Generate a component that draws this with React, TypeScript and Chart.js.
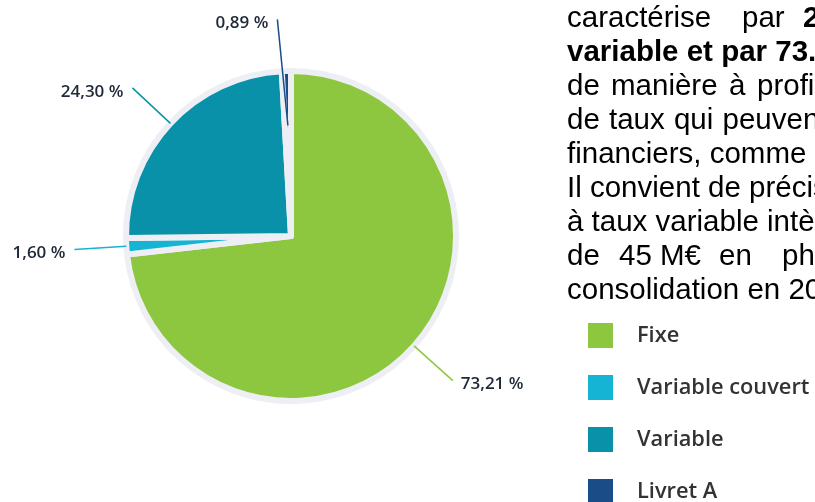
import React, { useEffect, useRef } from "react";
import { Chart, registerables } from "chart.js";

Chart.register(...registerables);

// ---- Data ----
const categories = ["Fixe", "Variable couvert", "Variable", "Livret A"];
const shares = [73.21, 1.6, 24.3, 0.89];
const sliceColors = ["#8dc63f", "#15b4d5", "#0891a9", "#1a4c88"];
const labelInnerFraction = [1, 1, 1, 0.67];
const labelAngleShiftDeg = [0, 0, 0, -2];

const formatPct = (v: number) => v.toFixed(2).replace(".", ",") + " %";

const pieLabelPlugin = {
  id: "pieLabels",
  afterDatasetsDraw(chart: any) {
    const meta = chart.getDatasetMeta(0);
    const ctx = chart.ctx;
    const values = chart.data.datasets[0].data as number[];
    const colors = chart.data.datasets[0].backgroundColor as string[];
    ctx.save();
    meta.data.forEach((arc: any, i: number) => {
      const { x, y, startAngle, endAngle, outerRadius } = arc.getProps(
        ["x", "y", "startAngle", "endAngle", "outerRadius"],
        true
      );
      const mid = (startAngle + endAngle) / 2;
      const outerMid = mid + (labelAngleShiftDeg[i] * Math.PI) / 180;
      const r1 = outerRadius * labelInnerFraction[i];
      const r2 = outerRadius + 52;
      const x1 = x + Math.cos(mid) * r1;
      const y1 = y + Math.sin(mid) * r1;
      const x2 = x + Math.cos(outerMid) * r2;
      const y2 = y + Math.sin(outerMid) * r2;
      ctx.strokeStyle = colors[i];
      ctx.lineWidth = 1.5;
      ctx.beginPath();
      ctx.moveTo(x1, y1);
      ctx.lineTo(x2, y2);
      ctx.stroke();
      ctx.fillStyle = "#1e2838";
      ctx.font = '600 17px "Open Sans", sans-serif';
      ctx.textBaseline = "middle";
      if (x2 >= x) {
        ctx.textAlign = "left";
        ctx.fillText(formatPct(values[i]), x2 + 8, y2 + 4);
      } else {
        ctx.textAlign = "right";
        ctx.fillText(formatPct(values[i]), x2 - 9, y2 + 4);
      }
    });
    ctx.restore();
  },
};

const legendPlugin = {
  id: "sideLegend",
  afterDraw(chart: any) {
    const ctx = chart.ctx;
    const labels = chart.data.labels as string[];
    const colors = chart.data.datasets[0].backgroundColor as string[];
    ctx.save();
    labels.forEach((lab, i) => {
      const top = 323 + i * 52;
      ctx.fillStyle = colors[i];
      ctx.fillRect(588, top, 25, 25);
      ctx.fillStyle = "#333333";
      ctx.font = '600 21.8px "Open Sans", sans-serif';
      ctx.textAlign = "left";
      ctx.textBaseline = "middle";
      ctx.fillText(lab, 637, top + 13);
    });
    ctx.restore();
  },
};

const BASE = 27;
const LINE = 34;

function Word({
  x,
  line,
  bold,
  ws,
  children,
}: {
  x: number;
  line: number;
  bold?: boolean;
  ws?: number;
  children: React.ReactNode;
}) {
  return (
    <span
      style={{
        position: "absolute",
        left: x,
        top: BASE + line * LINE - 24.9,
        whiteSpace: "pre",
        fontWeight: bold ? 700 : 400,
        wordSpacing: ws ? ws + "px" : undefined,
      }}
    >
      {children}
    </span>
  );
}

export default function App() {
  const canvasRef = useRef<HTMLCanvasElement | null>(null);

  useEffect(() => {
    if (!canvasRef.current) return;
    const chart = new Chart(canvasRef.current, {
      type: "pie",
      data: {
        labels: categories,
        datasets: [
          {
            data: shares,
            backgroundColor: sliceColors,
            borderColor: "#edeff4",
            borderWidth: 6,
            borderJoinStyle: "round",
          } as any,
        ],
      },
      options: {
        responsive: false,
        animation: false,
        devicePixelRatio: 1,
        radius: 165,
        layout: { padding: { left: 0, top: 0, right: 233, bottom: 30 } },
        plugins: {
          legend: { display: false },
          tooltip: { enabled: false },
        },
      } as any,
      plugins: [pieLabelPlugin, legendPlugin],
    });
    return () => chart.destroy();
  }, []);

  return (
    <div
      style={{
        position: "fixed",
        left: 0,
        top: 0,
        width: 815,
        height: 502,
        overflow: "hidden",
        background: "#fff",
      }}
    >
      <canvas
        ref={canvasRef}
        width={815}
        height={502}
        style={{ position: "absolute", left: 0, top: 0, display: "block" }}
      />
      <div
        style={{
          position: "absolute",
          left: 0,
          top: 0,
          width: 815,
          height: 502,
          overflow: "hidden",
          fontFamily: '"Liberation Sans", Arial, sans-serif',
          fontSize: "29.5px",
          lineHeight: "29.5px",
          color: "#000",
        }}
      >
        <Word x={567} line={0}>caractérise</Word>
        <Word x={742} line={0}>par</Word>
        <Word x={803} line={0} bold>24,30 %</Word>
        <Word x={567} line={1} bold>variable et par 73.21 % de taux fixe</Word>
        <Word x={567} line={2}>de</Word>
        <Word x={611} line={2}>manière</Word>
        <Word x={729} line={2}>à</Word>
        <Word x={757} line={2}>profiter</Word>
        <Word x={567} line={3} ws={1}>de taux qui peuvent</Word>
        <Word x={567} line={4}>financiers, comme des</Word>
        <Word x={567} line={5}>Il convient de préciser</Word>
        <Word x={567} line={6}>à taux variable intègre</Word>
        <Word x={567} line={7}>de</Word>
        <Word x={619} line={7}>45 M€</Word>
        <Word x={719} line={7}>en</Word>
        <Word x={782} line={7}>phase</Word>
        <Word x={567} line={8}>consolidation en 2020</Word>
      </div>
    </div>
  );
}
